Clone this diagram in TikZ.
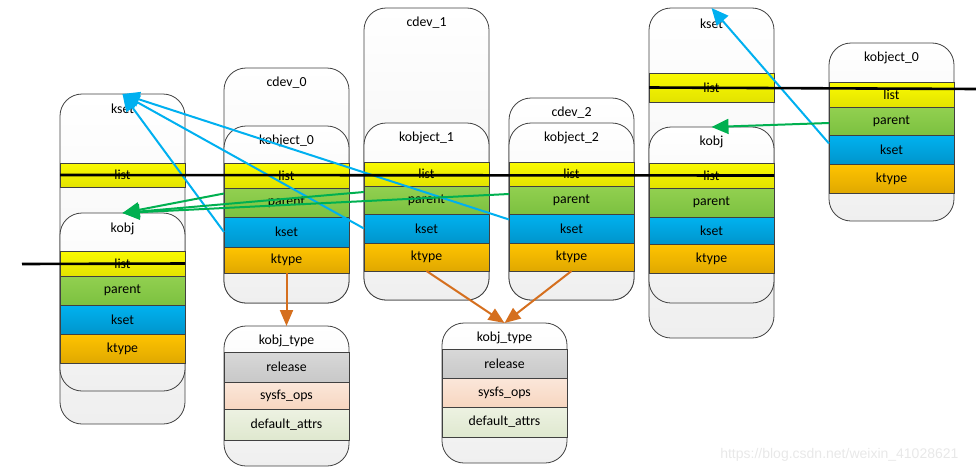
\documentclass[tikz,border=0pt]{standalone}
\usepackage{fontspec}
\setmainfont{Carlito}
\newfontfamily\markfont{Liberation Sans}
\usetikzlibrary{arrows.meta}

% Colours of the boxes and fields
\definecolor{boxline}{HTML}{404040}
\definecolor{boxbot}{HTML}{EFEFEF}
\definecolor{listtop}{HTML}{FAFA00}
\definecolor{listbot}{HTML}{E3E300}
\definecolor{parenttop}{HTML}{92D050}
\definecolor{parentbot}{HTML}{7CC140}
\definecolor{ksettop}{HTML}{00B2F0}
\definecolor{ksetbot}{HTML}{0095CC}
\definecolor{ktypetop}{HTML}{FFC400}
\definecolor{ktypebot}{HTML}{E0A800}
\definecolor{reltop}{HTML}{D8D8D8}
\definecolor{relbot}{HTML}{C8C8C8}
\definecolor{opstop}{HTML}{FBE7DA}
\definecolor{opsbot}{HTML}{F7D6C0}
\definecolor{attrtop}{HTML}{EDF2E2}
\definecolor{attrbot}{HTML}{DFE8CF}
\definecolor{kblue}{HTML}{00B0F0}
\definecolor{kgreen}{HTML}{00B050}
\definecolor{korange}{HTML}{D56F1E}

\tikzset{
  box/.style={draw=boxline, line width=0.8pt, rounded corners=22pt,
    top color=white, bottom color=boxbot, anchor=north west,
    minimum width=125pt, inner sep=0pt, outer sep=0pt},
  band/.style={draw=boxline, line width=0.8pt, anchor=north west,
    minimum width=125pt, inner sep=0pt, outer sep=0pt},
  listband/.style={band, top color=listtop, bottom color=listbot},
  parentband/.style={band, top color=parenttop, bottom color=parentbot},
  ksetband/.style={band, top color=ksettop, bottom color=ksetbot},
  ktypeband/.style={band, top color=ktypetop, bottom color=ktypebot},
  relband/.style={band, top color=reltop, bottom color=relbot},
  opsband/.style={band, top color=opstop, bottom color=opsbot},
  attrband/.style={band, top color=attrtop, bottom color=attrbot},
  title/.style={inner sep=0pt},
  ksetlink/.style={draw=kblue, line width=2pt, -{Triangle[length=17pt,width=15pt]}},
  parentlink/.style={draw=kgreen, line width=2pt, -{Triangle[length=17pt,width=15pt]}},
  typelink/.style={draw=korange, line width=2pt, -{Triangle[length=16pt,width=13pt]}},
  listlink/.style={draw=black, line width=2.6pt},
}

\begin{document}
\begin{tikzpicture}[x=1pt, y=-1pt, font=\fontsize{13.8}{15}\selectfont]

  \useasboundingbox (0,0) rectangle (976,474);

  % Left kset with its embedded kobj
  \node[box, minimum height=330pt] (lkset) at (60,94) {};
  \node[title] (lksettitle) at ([yshift=-15pt]lkset.north) {kset};
  \node[listband, minimum height=24pt] (lkslist) at (60,163) {list};

  \node[box, minimum height=178pt] (lkobj) at (60,213) {};
  \node[title] (lkobjtitle) at ([yshift=-16pt]lkobj.north) {kobj};
  \node[listband, minimum height=25pt] (lolist) at (60,251) {list};
  \node[parentband, minimum height=29pt] (loparent) at (60,276) {parent};
  \node[ksetband, minimum height=29pt] (lokset) at (60,305) {kset};
  \node[ktypeband, minimum height=29pt] (loktype) at (60,334) {ktype};

  % cdev_0 with kobject_0
  \node[box, minimum height=235pt] (cdev0) at (224,68) {};
  \node[title] (cdev0title) at ([yshift=-15pt]cdev0.north) {cdev\_0};
  \node[box, minimum height=177pt] (kobj0) at (224,126) {};
  \node[title] (kobj0title) at ([yshift=-15pt]kobj0.north) {kobject\_0};
  \node[listband, minimum height=25pt] (k0list) at (224,163) {list};
  \node[parentband, minimum height=29pt] (k0parent) at (224,188) {parent};
  \node[ksetband, minimum height=30pt] (k0kset) at (224,217) {kset};
  \node[ktypeband, minimum height=26pt] (k0ktype) at (224,247) {ktype};

  % cdev_1 with kobject_1
  \node[box, minimum height=292pt] (cdev1) at (364,8) {};
  \node[title] (cdev1title) at ([yshift=-15pt]cdev1.north) {cdev\_1};
  \node[box, minimum height=177pt] (kobj1) at (364,123) {};
  \node[title] (kobj1title) at ([yshift=-15pt]kobj1.north) {kobject\_1};
  \node[listband, minimum height=24pt] (k1list) at (364,162) {list};
  \node[parentband, minimum height=28pt] (k1parent) at (364,186) {parent};
  \node[ksetband, minimum height=29pt] (k1kset) at (364,214) {kset};
  \node[ktypeband, minimum height=28pt] (k1ktype) at (364,243) {ktype};

  % cdev_2 with kobject_2
  \node[box, minimum height=202pt] (cdev2) at (509,98) {};
  \node[title] (cdev2title) at ([yshift=-15pt]cdev2.north) {cdev\_2};
  \node[box, minimum height=177pt] (kobj2) at (509,123) {};
  \node[title] (kobj2title) at ([yshift=-15pt]kobj2.north) {kobject\_2};
  \node[listband, minimum height=24pt] (k2list) at (509,162) {list};
  \node[parentband, minimum height=28pt] (k2parent) at (509,186) {parent};
  \node[ksetband, minimum height=29pt] (k2kset) at (509,214) {kset};
  \node[ktypeband, minimum height=28pt] (k2ktype) at (509,243) {ktype};

  % Left kobj_type
  \node[box, minimum height=140pt] (ltype) at (224,326) {};
  \node[title] (ltypetitle) at ([yshift=-15pt]ltype.north) {kobj\_type};
  \node[relband, minimum height=30pt] (lrelease) at (224,352) {release};
  \node[opsband, minimum height=27pt] (lsysfs) at (224,382) {sysfs\_ops};
  \node[attrband, minimum height=31pt] (lattrs) at (224,409) {default\_attrs};

  % Right kobj_type
  \node[box, minimum height=140pt] (rtype) at (442,323) {};
  \node[title] (rtypetitle) at ([yshift=-15pt]rtype.north) {kobj\_type};
  \node[relband, minimum height=29pt] (rrelease) at (442,349) {release};
  \node[opsband, minimum height=29pt] (rsysfs) at (442,378) {sysfs\_ops};
  \node[attrband, minimum height=30pt] (rattrs) at (442,407) {default\_attrs};

  % Right kset with its embedded kobj
  \node[box, minimum height=330pt] (rkset) at (649,8) {};
  \node[title] (rksettitle) at ([yshift=-16pt]rkset.north) {kset};
  \node[listband, minimum height=29pt] (rkslist) at (649,73) {list};

  \node[box, minimum height=176pt] (rkobj) at (649,127) {};
  \node[title] (rkobjtitle) at ([yshift=-15pt]rkobj.north) {kobj};
  \node[listband, minimum height=25pt] (rolist) at (649,163) {list};
  \node[parentband, minimum height=29pt] (roparent) at (649,188) {parent};
  \node[ksetband, minimum height=27pt] (rokset) at (649,217) {kset};
  \node[ktypeband, minimum height=29pt] (roktype) at (649,244) {ktype};

  % Right kobject_0
  \node[box, minimum height=178pt] (rkobj0) at (829,43) {};
  \node[title] (rkobj0title) at ([yshift=-15pt]rkobj0.north) {kobject\_0};
  \node[listband, minimum height=25pt] (r0list) at (829,82) {list};
  \node[parentband, minimum height=28pt] (r0parent) at (829,107) {parent};
  \node[ksetband, minimum height=29pt] (r0kset) at (829,135) {kset};
  \node[ktypeband, minimum height=29pt] (r0ktype) at (829,164) {ktype};

  % Free ends of the list lines
  \coordinate (lolistend) at (22,264);
  \coordinate (rkslistend) at (976,89);

  % kset pointers
  \draw[ksetlink] (k0kset.west) -- (lkset.north);
  \draw[ksetlink] (k1kset.west) -- (lkset.north);
  \draw[ksetlink] ([yshift=9pt]k2kset.west) -- (lkset.north);
  \draw[ksetlink] ([yshift=6pt]r0kset.west) -- (rkset.north);

  % parent pointers
  \draw[parentlink] ([yshift=9pt]k0parent.west) -- (lkobj.north);
  \draw[parentlink] ([yshift=8pt]k1parent.west) -- (lkobj.north);
  \draw[parentlink] ([yshift=6pt]k2parent.west) -- (lkobj.north);
  \draw[parentlink] ([yshift=-2pt]r0parent.west) -- (rkobj.north);

  % ktype pointers
  \draw[typelink] (k0ktype.south) -- (ltype.north);
  \draw[typelink] (k1ktype.south) -- (rtype.north);
  \draw[typelink] (k2ktype.south) -- (rtype.north);

  % list heads
  \draw[listlink] (lkslist.west) -- (rolist.east);
  \draw[listlink] (lolistend) -- (lolist.east);
  \draw[listlink] (rkslist.west) -- (rkslistend);

  % Watermark
  \node[text=black!9, font=\markfont\fontsize{14}{16}\selectfont, anchor=east] (mark) at (962,455) {https://blog.csdn.net/weixin\_41028621};

\end{tikzpicture}
\end{document}
